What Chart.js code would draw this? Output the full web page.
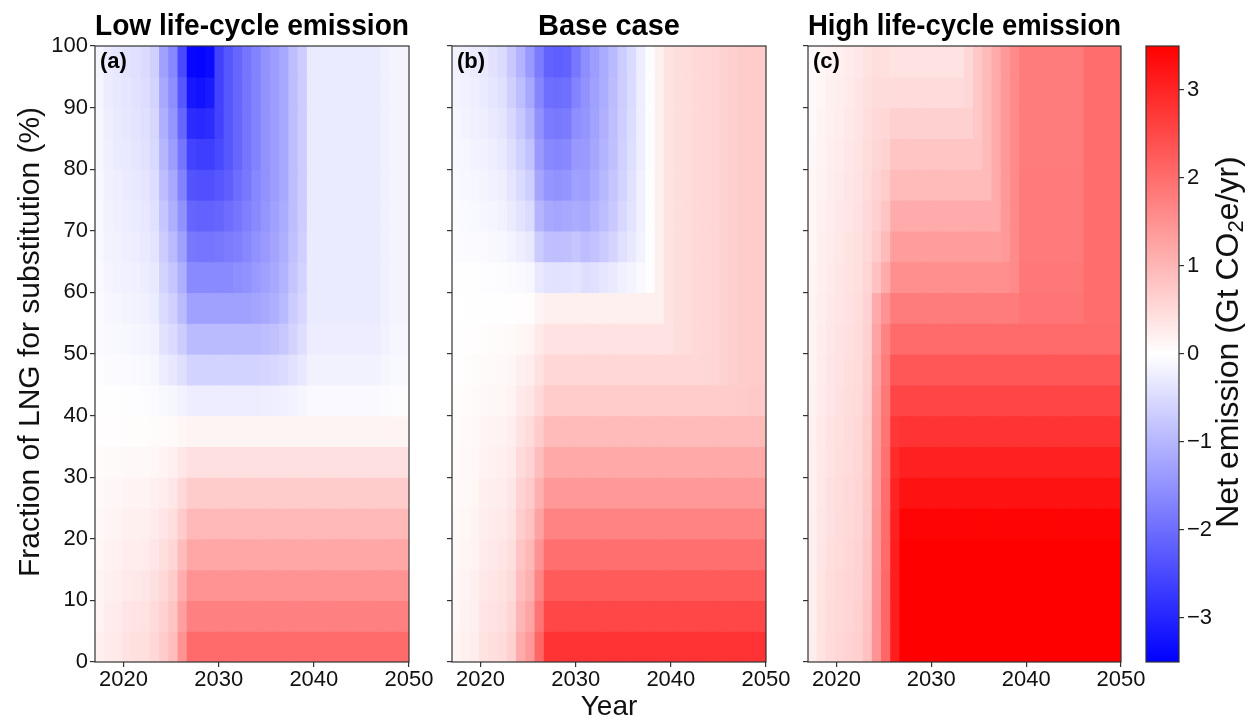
<!DOCTYPE html>
<html>
<head>
<meta charset="utf-8">
<script src="https://cdn.jsdelivr.net/npm/chart.js@4.4.1/dist/chart.umd.min.js"></script>
<style>
  html, body { margin: 0; padding: 0; background: #fff; }
  #wrap { position: relative; width: 1250px; height: 724px; overflow: hidden; }
  #wrap canvas { position: absolute; top: 0; }
</style>
</head>
<body>
<div id="wrap">
  <canvas id="panelA" width="440" height="724" style="left:0px;width:440px;height:724px"></canvas>
  <canvas id="panelB" width="355" height="724" style="left:442px;width:355px;height:724px"></canvas>
  <canvas id="panelC" width="354" height="724" style="left:798px;width:354px;height:724px"></canvas>
  <canvas id="cbar" width="114" height="724" style="left:1136px;width:114px;height:724px"></canvas>
</div>
<script>
// ---- data ----
const YEARS = [2017,2018,2019,2020,2021,2022,2023,2024,2025,2026,2027,2028,2029,2030,2031,2032,2033,
               2034,2035,2036,2037,2038,2039,2040,2041,2042,2043,2044,2045,2046,2047,2048,2049,2050];
// lower edge of each 5 % band of LNG fraction, top row first
const FRACTION_EDGES = [95,90,85,80,75,70,65,60,55,50,45,40,35,30,25,20,15,10,5,0];
const BAND = 5;
const X_TICKS = [2020, 2030, 2040, 2050];
const Y_TICKS = [0, 10, 20, 30, 40, 50, 60, 70, 80, 90, 100];
const CBAR_TICKS = [-3, -2, -1, 0, 1, 2, 3];
const VMIN = -3.5, VMAX = 3.5;
const X_MIN = 2017, X_MAX = 2050;

// net emission (Gt CO2e/yr), rows = fraction bands (top first), columns = YEARS
const LOW_CASE = [
  [-0.15,-0.28,-0.33,-0.38,-0.43,-0.5,-0.65,-1.3,-1.65,-2.5,-3.4,-3.45,-3.35,-2.6,-2.3,-2.1,-1.9,-1.7,-1.5,-1.35,-1.2,-0.9,-0.7,-0.28,-0.28,-0.28,-0.28,-0.28,-0.28,-0.28,-0.28,-0.2,-0.15,-0.15],
  [-0.14,-0.26,-0.31,-0.35,-0.4,-0.47,-0.6,-1.2,-1.55,-2.3,-3.2,-3.25,-3.15,-2.6,-2.3,-2.1,-1.9,-1.7,-1.5,-1.35,-1.2,-0.9,-0.7,-0.28,-0.28,-0.28,-0.28,-0.28,-0.28,-0.28,-0.28,-0.2,-0.15,-0.15],
  [-0.13,-0.24,-0.29,-0.33,-0.37,-0.44,-0.56,-1.1,-1.45,-2.1,-2.9,-2.95,-2.9,-2.6,-2.3,-2.1,-1.9,-1.7,-1.5,-1.35,-1.2,-0.9,-0.7,-0.28,-0.28,-0.28,-0.28,-0.28,-0.28,-0.28,-0.28,-0.2,-0.15,-0.15],
  [-0.12,-0.22,-0.27,-0.3,-0.34,-0.4,-0.52,-1.0,-1.35,-1.9,-2.6,-2.65,-2.65,-2.5,-2.3,-2.1,-1.9,-1.7,-1.5,-1.35,-1.2,-0.9,-0.7,-0.28,-0.28,-0.28,-0.28,-0.28,-0.28,-0.28,-0.28,-0.2,-0.15,-0.15],
  [-0.11,-0.2,-0.24,-0.28,-0.31,-0.36,-0.47,-0.9,-1.2,-1.7,-2.35,-2.4,-2.4,-2.3,-2.2,-2.0,-1.85,-1.65,-1.5,-1.35,-1.2,-0.9,-0.7,-0.28,-0.28,-0.28,-0.28,-0.28,-0.28,-0.28,-0.28,-0.2,-0.15,-0.15],
  [-0.1,-0.18,-0.22,-0.25,-0.28,-0.33,-0.42,-0.8,-1.1,-1.5,-2.1,-2.15,-2.15,-2.1,-2.0,-1.9,-1.75,-1.6,-1.45,-1.3,-1.15,-0.9,-0.7,-0.28,-0.28,-0.28,-0.28,-0.28,-0.28,-0.28,-0.28,-0.2,-0.15,-0.15],
  [-0.09,-0.16,-0.19,-0.22,-0.25,-0.29,-0.37,-0.7,-0.95,-1.3,-1.85,-1.9,-1.9,-1.85,-1.8,-1.75,-1.65,-1.5,-1.4,-1.25,-1.1,-0.85,-0.65,-0.28,-0.28,-0.28,-0.28,-0.28,-0.28,-0.28,-0.28,-0.2,-0.15,-0.15],
  [-0.08,-0.14,-0.17,-0.19,-0.21,-0.25,-0.32,-0.6,-0.8,-1.1,-1.6,-1.6,-1.6,-1.6,-1.6,-1.55,-1.5,-1.4,-1.3,-1.2,-1.05,-0.8,-0.6,-0.28,-0.28,-0.28,-0.28,-0.28,-0.28,-0.28,-0.28,-0.2,-0.15,-0.15],
  [-0.06,-0.11,-0.13,-0.15,-0.17,-0.2,-0.26,-0.5,-0.65,-0.95,-1.3,-1.3,-1.3,-1.3,-1.3,-1.3,-1.3,-1.25,-1.2,-1.1,-0.95,-0.7,-0.55,-0.28,-0.28,-0.28,-0.28,-0.28,-0.28,-0.28,-0.28,-0.2,-0.15,-0.15],
  [-0.05,-0.08,-0.1,-0.11,-0.13,-0.15,-0.2,-0.4,-0.5,-0.7,-0.95,-0.95,-0.95,-0.95,-0.95,-0.95,-0.95,-0.95,-0.9,-0.85,-0.75,-0.6,-0.45,-0.25,-0.25,-0.25,-0.25,-0.25,-0.25,-0.25,-0.25,-0.18,-0.13,-0.13],
  [-0.03,-0.05,-0.06,-0.07,-0.08,-0.09,-0.12,-0.25,-0.33,-0.45,-0.6,-0.6,-0.6,-0.6,-0.6,-0.6,-0.6,-0.6,-0.58,-0.55,-0.5,-0.4,-0.32,-0.18,-0.18,-0.18,-0.18,-0.18,-0.18,-0.18,-0.18,-0.12,-0.1,-0.1],
  [-0.01,-0.02,-0.02,-0.03,-0.03,-0.04,-0.05,-0.1,-0.13,-0.18,-0.25,-0.25,-0.25,-0.25,-0.25,-0.25,-0.25,-0.25,-0.24,-0.22,-0.2,-0.16,-0.13,-0.08,-0.08,-0.08,-0.08,-0.08,-0.08,-0.08,-0.08,-0.05,-0.04,-0.04],
  [0.02,0.03,0.03,0.04,0.04,0.04,0.05,0.06,0.08,0.12,0.15,0.15,0.15,0.15,0.15,0.15,0.15,0.15,0.15,0.15,0.15,0.15,0.15,0.15,0.15,0.15,0.15,0.15,0.15,0.15,0.15,0.15,0.15,0.15],
  [0.05,0.07,0.07,0.09,0.1,0.1,0.13,0.16,0.21,0.33,0.43,0.43,0.43,0.43,0.43,0.43,0.43,0.43,0.43,0.43,0.43,0.43,0.43,0.43,0.43,0.43,0.43,0.43,0.43,0.43,0.43,0.43,0.43,0.43],
  [0.08,0.11,0.11,0.15,0.16,0.17,0.2,0.26,0.33,0.52,0.7,0.7,0.7,0.7,0.7,0.7,0.7,0.7,0.7,0.7,0.7,0.7,0.7,0.7,0.7,0.7,0.7,0.7,0.7,0.7,0.7,0.7,0.7,0.7],
  [0.1,0.14,0.15,0.2,0.21,0.23,0.28,0.35,0.45,0.72,0.96,0.96,0.96,0.96,0.96,0.96,0.96,0.96,0.96,0.96,0.96,0.96,0.96,0.96,0.96,0.96,0.96,0.96,0.96,0.96,0.96,0.96,0.96,0.96],
  [0.12,0.18,0.19,0.25,0.26,0.28,0.35,0.45,0.58,0.92,1.22,1.22,1.22,1.22,1.22,1.22,1.22,1.22,1.22,1.22,1.22,1.22,1.22,1.22,1.22,1.22,1.22,1.22,1.22,1.22,1.22,1.22,1.22,1.22],
  [0.15,0.21,0.23,0.3,0.32,0.34,0.42,0.54,0.7,1.12,1.49,1.49,1.49,1.49,1.49,1.49,1.49,1.49,1.49,1.49,1.49,1.49,1.49,1.49,1.49,1.49,1.49,1.49,1.49,1.49,1.49,1.49,1.49,1.49],
  [0.17,0.25,0.27,0.35,0.37,0.4,0.49,0.63,0.8,1.32,1.75,1.75,1.75,1.75,1.75,1.75,1.75,1.75,1.75,1.75,1.75,1.75,1.75,1.75,1.75,1.75,1.75,1.75,1.75,1.75,1.75,1.75,1.75,1.75],
  [0.2,0.28,0.3,0.4,0.42,0.45,0.55,0.7,0.9,1.5,2.05,2.05,2.05,2.05,2.05,2.05,2.05,2.05,2.05,2.05,2.05,2.05,2.05,2.05,2.05,2.05,2.05,2.05,2.05,2.05,2.05,2.05,2.05,2.05]
];

const BASE_CASE = [
  [-0.18,-0.22,-0.28,-0.32,-0.4,-0.5,-0.75,-1.05,-1.4,-1.8,-2.15,-2.2,-2.15,-1.85,-1.55,-1.35,-1.15,-0.95,-0.7,-0.5,-0.25,-0.03,0.2,0.4,0.45,0.47,0.52,0.55,0.57,0.62,0.66,0.7,0.72,0.72],
  [-0.15,-0.19,-0.24,-0.27,-0.34,-0.43,-0.64,-0.89,-1.19,-1.66,-1.98,-2.02,-1.98,-1.7,-1.5,-1.31,-1.12,-0.92,-0.68,-0.49,-0.24,-0.03,0.2,0.4,0.45,0.47,0.52,0.55,0.57,0.62,0.66,0.7,0.72,0.72],
  [-0.13,-0.16,-0.2,-0.23,-0.29,-0.36,-0.54,-0.76,-1.01,-1.51,-1.81,-1.85,-1.81,-1.55,-1.46,-1.27,-1.08,-0.89,-0.66,-0.47,-0.24,-0.03,0.2,0.4,0.45,0.47,0.52,0.55,0.57,0.62,0.66,0.7,0.72,0.72],
  [-0.11,-0.13,-0.17,-0.19,-0.24,-0.3,-0.45,-0.63,-0.84,-1.37,-1.63,-1.67,-1.63,-1.41,-1.4,-1.22,-1.04,-0.86,-0.63,-0.45,-0.23,-0.03,0.2,0.4,0.45,0.47,0.52,0.55,0.57,0.62,0.66,0.7,0.72,0.72],
  [-0.09,-0.11,-0.13,-0.15,-0.19,-0.24,-0.36,-0.5,-0.67,-1.22,-1.46,-1.5,-1.46,-1.3,-1.32,-1.15,-0.98,-0.81,-0.6,-0.43,-0.21,-0.02,0.2,0.4,0.45,0.47,0.52,0.55,0.57,0.62,0.66,0.7,0.72,0.72],
  [-0.06,-0.08,-0.1,-0.12,-0.14,-0.18,-0.27,-0.38,-0.5,-1.01,-1.2,-1.23,-1.2,-1.15,-1.18,-1.05,-0.9,-0.74,-0.55,-0.39,-0.2,-0.02,0.2,0.4,0.45,0.47,0.52,0.55,0.57,0.62,0.66,0.7,0.72,0.72],
  [-0.04,-0.05,-0.06,-0.07,-0.09,-0.11,-0.17,-0.23,-0.31,-0.72,-0.86,-0.88,-0.86,-0.8,-0.9,-0.84,-0.71,-0.59,-0.43,-0.31,-0.16,-0.01,0.2,0.4,0.45,0.47,0.52,0.55,0.57,0.62,0.66,0.7,0.72,0.72],
  [-0.01,-0.02,-0.02,-0.03,-0.03,-0.04,-0.06,-0.08,-0.11,-0.32,-0.39,-0.4,-0.39,-0.36,-0.45,-0.41,-0.35,-0.29,-0.21,-0.15,-0.08,-0.01,0.2,0.4,0.45,0.47,0.52,0.55,0.57,0.62,0.66,0.7,0.72,0.72],
  [0,0.01,0.01,0.01,0.01,0.02,0.02,0.03,0.04,0.15,0.2,0.2,0.2,0.2,0.2,0.2,0.2,0.2,0.2,0.2,0.2,0.2,0.2,0.4,0.45,0.47,0.52,0.55,0.57,0.62,0.66,0.7,0.72,0.72],
  [0.02,0.02,0.03,0.04,0.05,0.05,0.07,0.12,0.14,0.3,0.4,0.4,0.4,0.4,0.4,0.4,0.4,0.4,0.4,0.4,0.4,0.4,0.38,0.4,0.45,0.47,0.52,0.55,0.57,0.62,0.66,0.7,0.72,0.72],
  [0.03,0.04,0.05,0.07,0.08,0.09,0.12,0.21,0.25,0.41,0.55,0.55,0.55,0.55,0.55,0.55,0.55,0.55,0.55,0.55,0.55,0.55,0.55,0.55,0.55,0.55,0.55,0.56,0.58,0.62,0.66,0.7,0.72,0.72],
  [0.04,0.05,0.07,0.1,0.12,0.13,0.17,0.3,0.36,0.54,0.72,0.72,0.72,0.72,0.72,0.72,0.72,0.72,0.72,0.72,0.72,0.72,0.72,0.72,0.72,0.72,0.72,0.72,0.72,0.72,0.72,0.73,0.74,0.74],
  [0.05,0.07,0.09,0.14,0.16,0.18,0.23,0.4,0.49,0.71,0.95,0.95,0.95,0.95,0.95,0.95,0.95,0.95,0.95,0.95,0.95,0.95,0.95,0.95,0.95,0.95,0.95,0.95,0.95,0.95,0.95,0.95,0.95,0.95],
  [0.06,0.09,0.11,0.17,0.19,0.22,0.28,0.49,0.6,0.89,1.18,1.18,1.18,1.18,1.18,1.18,1.18,1.18,1.18,1.18,1.18,1.18,1.18,1.18,1.18,1.18,1.18,1.18,1.18,1.18,1.18,1.18,1.18,1.18],
  [0.08,0.1,0.13,0.21,0.23,0.26,0.34,0.6,0.73,1.07,1.42,1.42,1.42,1.42,1.42,1.42,1.42,1.42,1.42,1.42,1.42,1.42,1.42,1.42,1.42,1.42,1.42,1.42,1.42,1.42,1.42,1.42,1.42,1.42],
  [0.09,0.12,0.15,0.24,0.27,0.3,0.39,0.69,0.84,1.28,1.7,1.7,1.7,1.7,1.7,1.7,1.7,1.7,1.7,1.7,1.7,1.7,1.7,1.7,1.7,1.7,1.7,1.7,1.7,1.7,1.7,1.7,1.7,1.7],
  [0.1,0.14,0.17,0.28,0.31,0.35,0.45,0.79,0.97,1.49,1.98,1.98,1.98,1.98,1.98,1.98,1.98,1.98,1.98,1.98,1.98,1.98,1.98,1.98,1.98,1.98,1.98,1.98,1.98,1.98,1.98,1.98,1.98,1.98],
  [0.12,0.16,0.2,0.31,0.35,0.39,0.51,0.9,1.09,1.69,2.25,2.25,2.25,2.25,2.25,2.25,2.25,2.25,2.25,2.25,2.25,2.25,2.25,2.25,2.25,2.25,2.25,2.25,2.25,2.25,2.25,2.25,2.25,2.25],
  [0.13,0.18,0.22,0.35,0.4,0.44,0.57,1.01,1.23,1.89,2.52,2.52,2.52,2.52,2.52,2.52,2.52,2.52,2.52,2.52,2.52,2.52,2.52,2.52,2.52,2.52,2.52,2.52,2.52,2.52,2.52,2.52,2.52,2.52],
  [0.15,0.2,0.25,0.4,0.45,0.5,0.65,1.15,1.4,2.1,2.8,2.8,2.8,2.8,2.8,2.8,2.8,2.8,2.8,2.8,2.8,2.8,2.8,2.8,2.8,2.8,2.8,2.8,2.8,2.8,2.8,2.8,2.8,2.8]
];

const HIGH_CASE = [
  [0.08,0.12,0.18,0.22,0.28,0.32,0.4,0.45,0.42,0.38,0.38,0.38,0.38,0.38,0.38,0.38,0.38,0.55,0.75,0.95,1.15,1.4,1.6,1.8,1.8,1.8,1.8,1.8,1.8,1.8,2.0,2.0,2.0,2.0],
  [0.09,0.13,0.2,0.24,0.3,0.34,0.42,0.48,0.48,0.5,0.5,0.5,0.5,0.5,0.5,0.5,0.5,0.55,0.75,0.95,1.15,1.4,1.6,1.8,1.8,1.8,1.8,1.8,1.8,1.8,2.0,2.0,2.0,2.0],
  [0.1,0.15,0.21,0.25,0.31,0.36,0.45,0.52,0.55,0.65,0.65,0.65,0.65,0.65,0.65,0.65,0.65,0.65,0.75,0.95,1.15,1.4,1.6,1.8,1.8,1.8,1.8,1.8,1.8,1.8,2.0,2.0,2.0,2.0],
  [0.11,0.16,0.23,0.27,0.33,0.37,0.47,0.56,0.62,0.8,0.8,0.8,0.8,0.8,0.8,0.8,0.8,0.8,0.8,0.95,1.15,1.4,1.6,1.8,1.8,1.8,1.8,1.8,1.8,1.8,2.0,2.0,2.0,2.0],
  [0.12,0.18,0.25,0.29,0.35,0.39,0.5,0.6,0.7,0.95,0.95,0.95,0.95,0.95,0.95,0.95,0.95,0.95,0.95,0.95,1.15,1.4,1.6,1.82,1.82,1.82,1.82,1.82,1.82,1.82,2.0,2.0,2.0,2.0],
  [0.12,0.19,0.26,0.31,0.36,0.41,0.52,0.65,0.8,1.15,1.15,1.15,1.15,1.15,1.15,1.15,1.15,1.15,1.15,1.15,1.15,1.4,1.6,1.82,1.82,1.82,1.82,1.82,1.82,1.82,2.0,2.0,2.0,2.0],
  [0.13,0.21,0.28,0.32,0.38,0.42,0.54,0.72,0.95,1.35,1.35,1.35,1.35,1.35,1.35,1.35,1.35,1.35,1.35,1.35,1.35,1.4,1.6,1.82,1.82,1.82,1.82,1.82,1.82,1.82,2.0,2.0,2.0,2.0],
  [0.14,0.22,0.3,0.34,0.4,0.44,0.57,0.85,1.15,1.55,1.55,1.55,1.55,1.55,1.55,1.55,1.55,1.55,1.55,1.55,1.55,1.55,1.6,1.85,1.85,1.85,1.85,1.85,1.85,1.85,2.0,2.0,2.0,2.0],
  [0.15,0.24,0.31,0.36,0.41,0.46,0.6,1.15,1.5,1.8,1.8,1.8,1.8,1.8,1.8,1.8,1.8,1.8,1.8,1.8,1.8,1.8,1.8,1.9,1.9,1.9,1.9,1.9,1.9,1.9,2.0,2.0,2.0,2.0],
  [0.16,0.25,0.33,0.38,0.43,0.48,0.62,1.25,1.7,2.05,2.05,2.05,2.05,2.05,2.05,2.05,2.05,2.05,2.05,2.05,2.05,2.05,2.05,2.05,2.05,2.05,2.05,2.05,2.05,2.05,2.05,2.05,2.05,2.05],
  [0.17,0.27,0.35,0.39,0.45,0.5,0.64,1.3,1.8,2.3,2.3,2.3,2.3,2.3,2.3,2.3,2.3,2.3,2.3,2.3,2.3,2.3,2.3,2.3,2.3,2.3,2.3,2.3,2.3,2.3,2.3,2.3,2.3,2.3],
  [0.18,0.28,0.36,0.41,0.47,0.51,0.67,1.35,1.85,2.55,2.55,2.55,2.55,2.55,2.55,2.55,2.55,2.55,2.55,2.55,2.55,2.55,2.55,2.55,2.55,2.55,2.55,2.55,2.55,2.55,2.55,2.55,2.55,2.55],
  [0.19,0.3,0.38,0.43,0.48,0.53,0.7,1.38,1.9,2.75,2.8,2.8,2.8,2.8,2.8,2.8,2.8,2.8,2.8,2.8,2.8,2.8,2.8,2.8,2.8,2.8,2.8,2.8,2.8,2.8,2.8,2.8,2.8,2.8],
  [0.2,0.31,0.4,0.45,0.5,0.55,0.72,1.4,1.95,2.9,3.05,3.05,3.05,3.05,3.05,3.05,3.05,3.05,3.05,3.05,3.05,3.05,3.05,3.05,3.05,3.05,3.05,3.05,3.05,3.05,3.05,3.05,3.05,3.05],
  [0.21,0.33,0.42,0.46,0.52,0.56,0.74,1.42,2.0,3.0,3.25,3.25,3.25,3.25,3.25,3.25,3.25,3.25,3.25,3.25,3.25,3.25,3.25,3.25,3.25,3.25,3.25,3.25,3.25,3.25,3.25,3.25,3.25,3.25],
  [0.22,0.34,0.43,0.48,0.53,0.58,0.76,1.44,2.02,3.05,3.45,3.45,3.45,3.45,3.45,3.45,3.45,3.45,3.45,3.45,3.45,3.45,3.45,3.45,3.45,3.45,3.45,3.45,3.45,3.45,3.45,3.45,3.45,3.45],
  [0.22,0.36,0.45,0.5,0.55,0.6,0.78,1.46,2.05,3.1,3.6,3.6,3.6,3.6,3.6,3.6,3.6,3.6,3.6,3.6,3.6,3.6,3.6,3.6,3.6,3.6,3.6,3.6,3.6,3.6,3.6,3.6,3.6,3.6],
  [0.23,0.37,0.47,0.52,0.57,0.61,0.8,1.47,2.07,3.1,3.7,3.7,3.7,3.7,3.7,3.7,3.7,3.7,3.7,3.7,3.7,3.7,3.7,3.7,3.7,3.7,3.7,3.7,3.7,3.7,3.7,3.7,3.7,3.7],
  [0.24,0.39,0.48,0.53,0.58,0.63,0.83,1.48,2.1,3.1,3.8,3.8,3.8,3.8,3.8,3.8,3.8,3.8,3.8,3.8,3.8,3.8,3.8,3.8,3.8,3.8,3.8,3.8,3.8,3.8,3.8,3.8,3.8,3.8],
  [0.25,0.4,0.5,0.55,0.6,0.65,0.85,1.5,2.1,3.1,3.85,3.85,3.85,3.85,3.85,3.85,3.85,3.85,3.85,3.85,3.85,3.85,3.85,3.85,3.85,3.85,3.85,3.85,3.85,3.85,3.85,3.85,3.85,3.85]
];

// ---- styling ----
const FONT = "'Liberation Sans', Arial, Helvetica, sans-serif";
const AXIS = '#333';
Chart.defaults.font.family = FONT;
Chart.defaults.color = '#111';

// matplotlib "bwr" colormap
function bwr(v) {
  const t = Math.min(1, Math.max(0, (v - VMIN) / (VMAX - VMIN)));
  let r, g, b;
  if (t < 0.5) { r = g = Math.round(510 * t); b = 255; }
  else { r = 255; g = b = Math.round(510 * (1 - t)); }
  return 'rgb(' + r + ',' + g + ',' + b + ')';
}

// imshow-like extent: the 34 yearly columns are spread over 2017..2050
const cellW = (X_MAX - X_MIN) / YEARS.length;

function heatDatasets(grid) {
  return FRACTION_EDGES.map((lo, r) => ({
    data: YEARS.map((yr, k) => ({ x: X_MIN + (k + 0.5) * cellW, y: [lo, lo + BAND] })),
    backgroundColor: grid[r].map(bwr),
    borderWidth: 0,
    inflateAmount: 0.6,
    grouped: false,
    categoryPercentage: 1,
    barPercentage: 1
  }));
}

// frame, panel tag and (optionally) the rotated y-axis label
function panelDecor(tag, yLabel) {
  return {
    id: 'panelDecor',
    afterDatasetsDraw(chart) {
      const { ctx, chartArea: a } = chart;
      ctx.save();
      ctx.strokeStyle = AXIS;
      ctx.lineWidth = 1.2;
      ctx.strokeRect(a.left, a.top, a.right - a.left, a.bottom - a.top);
      ctx.fillStyle = '#000';
      ctx.font = 'bold 22px ' + FONT;
      ctx.textBaseline = 'alphabetic';
      ctx.fillText(tag, a.left + 5, a.top + 22);
      if (yLabel) {
        ctx.fillStyle = '#111';
        ctx.font = '30px ' + FONT;
        ctx.translate(31, (a.top + a.bottom) / 2 - 12);
        ctx.rotate(-Math.PI / 2);
        ctx.textAlign = 'center';
        ctx.textBaseline = 'middle';
        ctx.fillText(yLabel, 0, 0);
      }
      ctx.restore();
    }
  };
}

function makePanel(id, grid, title, tag, yWidth, yLabel, xTitle) {
  return new Chart(document.getElementById(id), {
    type: 'bar',
    data: { datasets: heatDatasets(grid) },
    options: {
      responsive: false,
      animation: false,
      events: [],
      layout: { padding: { left: 0, right: 31, top: 0, bottom: 0 } },
      plugins: {
        legend: { display: false },
        tooltip: { enabled: false },
        title: {
          display: true, text: title, color: '#000', fullSize: false,
          font: { size: 29, weight: 'bold' },
          padding: { top: 10, bottom: 1.2 }
        }
      },
      scales: {
        x: {
          type: 'linear', min: X_MIN, max: X_MAX, offset: false,
          afterBuildTicks: s => { s.ticks = X_TICKS.map(v => ({ value: v })); },
          afterFit: s => { s.height = 62; },
          grid: { display: true, offset: false, drawOnChartArea: false, drawTicks: true, tickLength: 5, color: AXIS, lineWidth: 1.2 },
          border: { display: false },
          ticks: { color: '#111', padding: 0, autoSkip: false, maxRotation: 0, font: { size: 22 }, callback: v => String(v) },
          title: { display: !!xTitle, text: xTitle || '', color: '#111', font: { size: 28 }, padding: { top: 0, bottom: 0 } }
        },
        y: {
          type: 'linear', min: 0, max: 100,
          afterBuildTicks: s => { s.ticks = Y_TICKS.map(v => ({ value: v })); },
          afterFit: s => { s.width = yWidth; },
          grid: { display: true, offset: false, drawOnChartArea: false, drawTicks: true, tickLength: 5, color: AXIS, lineWidth: 1.2 },
          border: { display: false },
          ticks: { display: !!yLabel, color: '#111', padding: 2, font: { size: 22 } }
        }
      }
    },
    plugins: [panelDecor(tag, yLabel)]
  });
}

makePanel('panelA', LOW_CASE, 'Low life-cycle emission', '(a)', 95, 'Fraction of LNG for substitution (%)', null);
makePanel('panelB', BASE_CASE, 'Base case', '(b)', 10, null, 'Year');
makePanel('panelC', HIGH_CASE, 'High life-cycle emission', '(c)', 10, null, null);

// ---- colorbar ----
const colorbarDecor = {
  id: 'colorbarDecor',
  beforeDatasetsDraw(chart) {
    const { ctx, chartArea: a, scales: { y } } = chart;
    const y0 = y.getPixelForValue(VMIN), y1 = y.getPixelForValue(VMAX);
    const g = ctx.createLinearGradient(0, y0, 0, y1);
    g.addColorStop(0, bwr(VMIN));
    g.addColorStop(0.5, bwr(0));
    g.addColorStop(1, bwr(VMAX));
    ctx.save();
    ctx.fillStyle = g;
    ctx.fillRect(a.left, y1, a.right - a.left, y0 - y1);
    ctx.strokeStyle = AXIS;
    ctx.lineWidth = 1.2;
    ctx.strokeRect(a.left, a.top, a.right - a.left, a.bottom - a.top);
    ctx.restore();
  },
  afterDraw(chart) {
    // rotated label with a subscript 2
    const { ctx, chartArea: a } = chart;
    const size = 32, sub = 22;
    const p1 = 'Net emission (Gt CO', p2 = '2', p3 = 'e/yr)';
    ctx.save();
    ctx.font = size + 'px ' + FONT;
    const w1 = ctx.measureText(p1).width, w3 = ctx.measureText(p3).width;
    ctx.font = sub + 'px ' + FONT;
    const w2 = ctx.measureText(p2).width;
    const total = w1 + w2 + w3;
    ctx.translate(93, (a.top + a.bottom) / 2 - 12);
    ctx.rotate(-Math.PI / 2);
    ctx.fillStyle = '#111';
    ctx.textBaseline = 'middle';
    let x = -total / 2;
    ctx.font = size + 'px ' + FONT;
    ctx.fillText(p1, x, 0);
    x += w1;
    ctx.font = sub + 'px ' + FONT;
    ctx.fillText(p2, x, 8);
    x += w2;
    ctx.font = size + 'px ' + FONT;
    ctx.fillText(p3, x, 0);
    ctx.restore();
  }
};

new Chart(document.getElementById('cbar'), {
  type: 'bar',
  data: { labels: [''], datasets: [] },
  options: {
    responsive: false,
    animation: false,
    events: [],
    layout: { padding: { left: 10, right: 0, top: 46, bottom: 62 } },
    plugins: { legend: { display: false }, tooltip: { enabled: false } },
    scales: {
      x: { display: false },
      y: {
        type: 'linear', position: 'right', min: VMIN, max: VMAX,
        afterBuildTicks: s => { s.ticks = CBAR_TICKS.map(v => ({ value: v })); },
        afterFit: s => { s.width = 71; },
        grid: { display: true, drawOnChartArea: false, drawTicks: true, tickLength: 5, color: AXIS, lineWidth: 1.2 },
        border: { display: false },
        ticks: { color: '#111', padding: 3, font: { size: 22 }, callback: v => (v < 0 ? '\u2212' + (-v) : String(v)) }
      }
    }
  },
  plugins: [colorbarDecor]
});
</script>
</body>
</html>
